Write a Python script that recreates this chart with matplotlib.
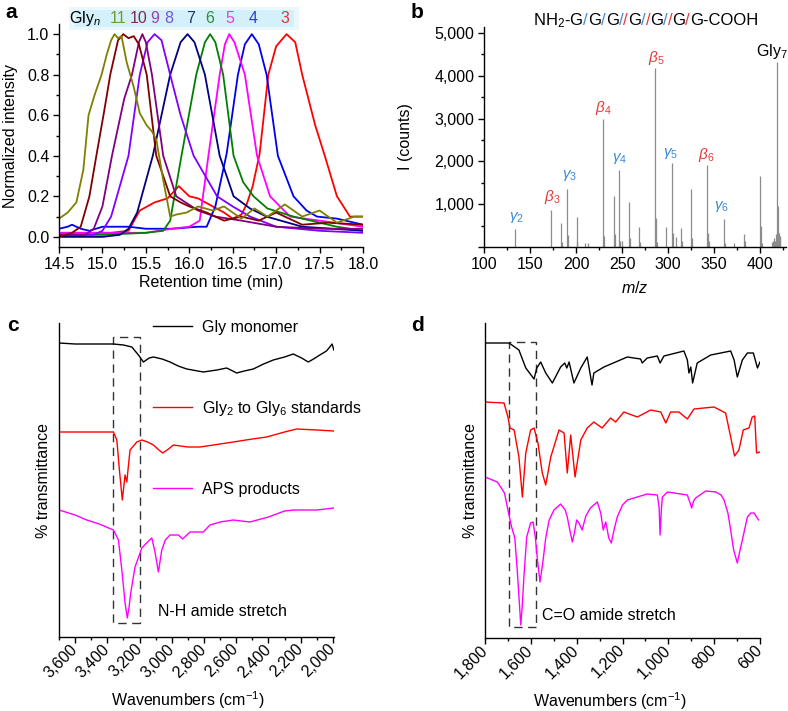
import matplotlib
matplotlib.use("Agg")
import matplotlib.pyplot as plt
from matplotlib.patches import Rectangle
from matplotlib.ticker import MultipleLocator, FuncFormatter

plt.rcParams["font.family"] = ["Liberation Sans", "DejaVu Sans"]
plt.rcParams["mathtext.fontset"] = "custom"
plt.rcParams["mathtext.rm"] = "Liberation Sans"
plt.rcParams["mathtext.it"] = "Liberation Sans:italic"
plt.rcParams["mathtext.bf"] = "Liberation Sans:bold"
plt.rcParams["font.size"] = 11.5
plt.rcParams["axes.linewidth"] = 1.0
FS = 11.5

# ---------------- panel a: HPLC traces of Gly_n ----------------
t_gly3 = [14.5, 14.8, 15.1, 15.3, 15.43, 15.6, 15.75, 15.88, 16.0, 16.1, 16.27, 16.4, 16.5, 16.6, 16.66,
          16.73, 16.81, 16.91, 17.0, 17.12, 17.22, 17.3, 17.45, 17.56, 17.7, 17.85, 18.0]
i_gly3 = [0.02, 0.02, 0.02, 0.03, 0.13, 0.17, 0.19, 0.25, 0.20, 0.19, 0.15, 0.12, 0.09, 0.11, 0.16,
          0.25, 0.41, 0.80, 0.94, 1.00, 0.96, 0.80, 0.55, 0.40, 0.20, 0.10, 0.10]
t_gly4 = [14.5, 14.6, 14.65, 14.75, 14.85, 15.0, 15.3, 15.5, 15.8, 16.1, 16.2, 16.3, 16.43, 16.56, 16.64,
          16.72, 16.8, 16.89, 17.02, 17.2, 17.35, 17.47, 17.7, 18.0]
i_gly4 = [0.04, 0.05, 0.06, 0.04, 0.03, 0.05, 0.05, 0.04, 0.04, 0.05, 0.05, 0.15, 0.41, 0.80, 0.95,
          1.00, 0.95, 0.80, 0.40, 0.20, 0.13, 0.10, 0.09, 0.06]
t_gly5 = [14.5, 15.0, 15.5, 15.8, 16.0, 16.12, 16.22, 16.35, 16.41, 16.46, 16.52, 16.64, 16.78, 16.93,
          17.16, 17.5, 18.0]
i_gly5 = [0.02, 0.02, 0.02, 0.04, 0.05, 0.08, 0.40, 0.80, 0.95, 1.00, 0.96, 0.80, 0.40, 0.20,
          0.10, 0.08, 0.05]
t_gly6 = [14.5, 15.0, 15.5, 15.7, 15.78, 15.91, 16.08, 16.18, 16.24, 16.3, 16.39, 16.51, 16.62, 16.74,
          16.9, 17.2, 17.7, 18.0]
i_gly6 = [0.01, 0.01, 0.02, 0.03, 0.08, 0.40, 0.80, 0.96, 1.00, 0.96, 0.80, 0.40, 0.27, 0.20,
          0.14, 0.10, 0.05, 0.03]
t_gly7 = [14.5, 15.0, 15.2, 15.3, 15.4, 15.58, 15.78, 15.9, 15.98, 16.06, 16.18, 16.35, 16.51, 16.7,
          16.89, 17.3, 18.0]
i_gly7 = [0.00, 0.00, 0.01, 0.04, 0.12, 0.40, 0.80, 0.96, 1.00, 0.96, 0.80, 0.40, 0.20, 0.14,
          0.10, 0.05, 0.03]
t_gly8 = [14.5, 14.9, 15.0, 15.1, 15.3, 15.43, 15.52, 15.6, 15.68, 15.78, 15.9, 16.05, 16.32, 16.5,
          16.7, 17.0, 17.5, 18.0]
i_gly8 = [0.01, 0.01, 0.03, 0.10, 0.40, 0.80, 0.96, 1.00, 0.97, 0.80, 0.60, 0.40, 0.20, 0.15,
          0.10, 0.05, 0.03, 0.02]
t_gly9 = [14.5, 14.8, 14.9, 15.0, 15.11, 15.25, 15.34, 15.42, 15.46, 15.5, 15.57, 15.7, 15.85, 16.1,
          16.3, 16.6, 17.0, 17.5, 18.0]
i_gly9 = [0.01, 0.01, 0.04, 0.15, 0.40, 0.68, 0.80, 0.96, 1.00, 0.96, 0.80, 0.40, 0.20, 0.13,
          0.10, 0.08, 0.05, 0.04, 0.04]
t_gly10 = [14.5, 14.65, 14.75, 14.85, 14.93, 15.02, 15.09, 15.18, 15.24, 15.3, 15.36, 15.42, 15.51,
           15.62, 15.78, 15.9, 16.0, 16.2, 16.4, 16.6, 16.8, 17.0, 17.3, 17.6, 18.0]
i_gly10 = [0.00, 0.02, 0.05, 0.20, 0.40, 0.62, 0.80, 0.97, 1.00, 0.98, 0.99, 0.95, 0.80,
           0.40, 0.20, 0.17, 0.15, 0.12, 0.08, 0.10, 0.08, 0.12, 0.06, 0.07, 0.06]
t_gly11 = [14.5, 14.6, 14.7, 14.78, 14.84, 14.91, 14.99, 15.05, 15.1, 15.14, 15.18, 15.22, 15.28, 15.36,
           15.43, 15.51, 15.57, 15.62, 15.7, 15.78, 15.85, 15.97, 16.1, 16.27, 16.4, 16.6, 16.75,
           16.9, 17.1, 17.3, 17.5, 17.7, 17.9, 18.0]
i_gly11 = [0.09, 0.12, 0.17, 0.33, 0.60, 0.70, 0.80, 0.90, 0.97, 1.00, 0.98, 0.99, 0.86, 0.74,
           0.61, 0.55, 0.52, 0.48, 0.28, 0.10, 0.11, 0.12, 0.15, 0.13, 0.15, 0.09, 0.14,
           0.10, 0.16, 0.10, 0.13, 0.07, 0.10, 0.10]

gly_names = ["11", "10", "9", "8", "7", "6", "5", "4", "3"]
gly_label_x = [15.18, 15.42, 15.6, 15.76, 16.01, 16.24, 16.47, 16.74, 17.1]
gly_label_colors = ["#6f9a35", "#7b2d4b", "#9b3fb0", "#7a52e0", "#1f3575", "#2f8f3a", "#e044e0", "#2d3fd0", "#e0353a"]

# ---------------- panel b: MS/MS of Gly7 ----------------
mz = [133.4, 172.5, 184, 185, 190.2, 191, 200.7, 201.5, 210, 213, 229.3, 230, 241.3, 242, 247, 248, 250,
      257.9, 258.5, 268, 269, 286.2, 287, 288, 297.8, 304.3, 305, 308.3, 314.5, 315.5, 324.6, 325.5,
      342.7, 343.6, 344.5, 360.9, 362, 371, 381.9, 383, 400, 400.7, 401.5, 413, 414, 415, 416, 417,
      418.2, 419, 419.8, 420.5, 421.3, 422]
counts = [420, 860, 553, 120, 1348, 290, 709, 150, 100, 100, 3000, 250, 1190, 300, 1800, 150, 150,
          1044, 200, 460, 120, 4175, 670, 120, 475, 1970, 330, 240, 436, 150, 1348, 200,
          1908, 320, 150, 662, 100, 100, 304, 150, 1660, 490, 100, 120, 150, 200, 150, 300,
          4330, 958, 350, 320, 250, 200]
ion_labels = [r"$\gamma_2$", r"$\beta_3$", r"$\gamma_3$", r"$\beta_4$", r"$\gamma_4$", r"$\beta_5$",
              r"$\gamma_5$", r"$\beta_6$", r"$\gamma_6$", "Gly$_7$"]
ion_mz = [135.5, 174.6, 192.4, 229.7, 247, 286.6, 302.9, 341, 357.9, 412.5]
ion_y = [700, 1170, 1660, 3240, 2060, 4410, 2190, 2150, 940, 4560]
ion_colors = ["#3a8ad6", "#e83a3a", "#3a8ad6", "#e83a3a", "#3a8ad6", "#e83a3a",
              "#3a8ad6", "#e83a3a", "#3a8ad6", "black"]

# ---------------- panel c: IR, N-H region ----------------
wn_c_mono = [3700, 3600, 3500, 3362, 3300, 3248, 3207, 3176, 3140, 3114, 3060, 3011, 2960, 2907, 2804,
             2720, 2659, 2597, 2550, 2494, 2430, 2370, 2300, 2246, 2194, 2153, 2120, 2081, 2040, 2019,
             2005, 1994]
tr_c_mono = [294, 293, 293, 293, 292, 290, 282, 275, 279, 280, 278, 275, 271, 268, 265,
             267, 269, 264, 266, 268, 273, 277, 280, 283, 279, 275, 278, 282, 286, 290,
             293, 287]
wn_c_std = [3700, 3500, 3362, 3341, 3325, 3307, 3298, 3290, 3279, 3270, 3259, 3217, 3186, 3150, 3114,
            3080, 3056, 3020, 2990, 2900, 2825, 2700, 2618, 2500, 2411, 2300, 2225, 2100, 1994]
tr_c_std = [205, 205, 205, 197, 167, 137, 150, 162, 155, 170, 187, 195, 197, 195, 192,
            187, 184, 188, 192, 190, 190, 193, 195, 198, 200, 205, 208, 207, 206]
wn_c_aps = [3700, 3600, 3528, 3450, 3362, 3331, 3310, 3290, 3276, 3265, 3255, 3228, 3186, 3150, 3124,
            3104, 3083, 3062, 3040, 3011, 2959, 2932, 2887, 2804, 2763, 2700, 2618, 2515, 2400, 2300,
            2246, 2100, 1994]
tr_c_aps = [127, 122, 117, 113, 107, 97, 67, 34, 19, 30, 44, 70, 89, 95, 99,
            85, 65, 87, 97, 102, 102, 98, 105, 105, 112, 115, 117, 115, 120, 126,
            127, 127, 129]

# ---------------- panel d: IR, C=O region ----------------
wn_d_mono = [1800, 1695, 1652, 1622, 1586, 1574, 1557, 1535, 1506, 1470, 1452, 1443, 1433, 1412, 1382,
             1354, 1333, 1325, 1281, 1179, 1121, 1114, 1092, 1048, 1036, 1019, 932, 917, 910, 902,
             894, 874, 815, 728, 713, 699, 677, 655, 629, 611, 600]
tr_d_mono = [295, 295, 288, 270, 259, 270, 276, 265, 255, 271, 275, 270, 276, 255, 270,
             281, 253, 265, 271, 281, 279, 275, 280, 282, 275, 282, 287, 278, 265, 271,
             255, 275, 283, 287, 278, 261, 278, 285, 285, 270, 276]
wn_d_std = [1800, 1717, 1700, 1691, 1673, 1652, 1637, 1622, 1601, 1586, 1569, 1550, 1535, 1513, 1477,
            1455, 1441, 1426, 1407, 1382, 1354, 1325, 1289, 1252, 1230, 1194, 1135, 1077, 1033, 1011,
            990, 954, 917, 888, 801, 750, 728, 711, 692, 673, 648, 634, 623, 615, 600]
tr_d_std = [236, 235, 221, 210, 208, 181, 141, 185, 208, 210, 195, 165, 153, 181, 208,
            205, 165, 203, 161, 198, 210, 216, 210, 220, 216, 226, 221, 228, 226, 215,
            226, 226, 219, 229, 231, 225, 201, 182, 188, 208, 210, 221, 222, 185, 186]
wn_d_aps = [1800, 1746, 1715, 1700, 1685, 1670, 1660, 1650, 1644, 1638, 1630, 1618, 1601, 1590, 1580,
            1571, 1560, 1548, 1535, 1520, 1499, 1470, 1450, 1441, 1430, 1419, 1410, 1400, 1390, 1376,
            1360, 1340, 1310, 1295, 1284, 1273, 1260, 1249, 1235, 1223, 1200, 1179, 1092, 1048, 1040,
            1036, 1030, 1026, 1004, 917, 905, 898, 890, 881, 837, 793, 770, 757, 740, 728,
            715, 699, 690, 677, 655, 640, 626, 615, 606]
tr_d_aps = [161, 156, 145, 128, 112, 100, 70, 35, 13, 30, 62, 101, 115, 116, 100,
            78, 56, 75, 100, 118, 128, 134, 128, 121, 108, 96, 105, 118, 115, 108,
            122, 130, 136, 125, 108, 116, 100, 95, 110, 121, 133, 138, 144, 143, 130,
            103, 130, 141, 146, 143, 135, 130, 137, 140, 147, 146, 143, 138, 125, 108,
            88, 75, 85, 98, 121, 125, 125, 121, 118]

W, H = 788, 711
fig = plt.figure(figsize=(W / 100, H / 100), dpi=100)


def px_axes(x0, y0, x1, y1):
    return fig.add_axes([x0 / W, 1 - y1 / H, (x1 - x0) / W, (y1 - y0) / H])


def open_axes(ax, left_ticks=True):
    ax.spines["top"].set_visible(False)
    ax.spines["right"].set_visible(False)
    ax.tick_params(direction="out", length=4, width=1, labelsize=FS, pad=3)
    ax.tick_params(which="minor", direction="out", length=2.5, width=1)
    if not left_ticks:
        ax.set_yticks([])


comma = FuncFormatter(lambda v, p: f"{v:,.0f}")

# ---- a ----
ax = px_axes(59, 24, 363, 247)
open_axes(ax)
curves = [(t_gly3, i_gly3, "#ff0000"), (t_gly4, i_gly4, "#0000ee"), (t_gly5, i_gly5, "#ff00ff"),
          (t_gly6, i_gly6, "#008000"), (t_gly7, i_gly7, "#000080"), (t_gly8, i_gly8, "#8000ff"),
          (t_gly9, i_gly9, "#800080"), (t_gly10, i_gly10, "#800000"), (t_gly11, i_gly11, "#808000")]
for tt, ii, col in curves:
    ax.plot(tt, ii, color=col, lw=1.3)
ax.set_xlim(14.5, 18.0)
ax.set_ylim(-0.05, 1.05)
ax.xaxis.set_major_locator(MultipleLocator(0.5))
ax.xaxis.set_minor_locator(MultipleLocator(0.25))
ax.yaxis.set_major_locator(MultipleLocator(0.2))
ax.yaxis.set_minor_locator(MultipleLocator(0.1))
ax.set_xlabel("Retention time (min)", fontsize=FS)
ax.set_ylabel("Normalized intensity", fontsize=FS)
ax.xaxis.set_label_coords(0.5, -0.125)
ax.yaxis.set_label_coords(-0.135, 0.5)
ax.add_patch(Rectangle((14.62, 1.02), 2.64, 0.115, facecolor="#eaf7fd", edgecolor="none",
                       clip_on=False, zorder=0))
ax.add_patch(Rectangle((14.68, 1.035), 2.52, 0.085, facecolor="#d3f0fb", edgecolor="none",
                       clip_on=False, zorder=0))
ax.text(14.80, 1.077, "Gly$_n$", ha="center", va="center", fontsize=FS, clip_on=False)
for name, x, col in zip(gly_names, gly_label_x, gly_label_colors):
    ax.text(x, 1.077, name, color=col, ha="center", va="center", fontsize=FS, clip_on=False)

# ---- b ----
ax = px_axes(484, 27, 786, 247)
open_axes(ax)
ax.vlines(mz, 0, counts, color="#8c8c8c", lw=0.9)
ax.set_xlim(100, 428)
ax.set_ylim(0, 5140)
ax.xaxis.set_major_locator(MultipleLocator(50))
ax.xaxis.set_minor_locator(MultipleLocator(25))
ax.yaxis.set_major_locator(MultipleLocator(1000))
ax.yaxis.set_minor_locator(MultipleLocator(500))
ax.yaxis.set_major_formatter(FuncFormatter(lambda v, p: "" if v == 0 else f"{v:,.0f}"))
ax.set_xlabel("$m/z$", fontsize=FS)
ax.set_ylabel("I (counts)", fontsize=FS)
ax.xaxis.set_label_coords(0.5, -0.15)
ax.yaxis.set_label_coords(-0.235, 0.5)
for lab, x, y, col in zip(ion_labels, ion_mz, ion_y, ion_colors):
    ax.text(x, y, lab, color=col, ha="center", va="center", fontsize=11 if col != "black" else FS)

# ---- c ----
ax = px_axes(59, 323, 334, 637)
open_axes(ax, left_ticks=False)
ax.plot(wn_c_mono, tr_c_mono, color="black", lw=1.0, label="Gly monomer")
ax.plot(wn_c_std, tr_c_std, color="#ff0000", lw=1.0, label="Gly$_2$ to Gly$_6$ standards")
ax.plot(wn_c_aps, tr_c_aps, color="#ff00ff", lw=1.0, label="APS products")
ax.set_xlim(3700, 1993)
ax.set_ylim(0, 314)
ax.xaxis.set_major_locator(MultipleLocator(200))
ax.xaxis.set_minor_locator(MultipleLocator(100))
ax.xaxis.set_major_formatter(comma)
ax.add_patch(Rectangle((3200, 14), 162, 286, fill=False, ls=(0, (6, 4)), lw=1.0, edgecolor="#333333"))
ax.text(3087, 25, "N-H amide stretch", ha="left", va="center", fontsize=FS)
ax.legend(loc="upper left", bbox_to_anchor=(0.34, 1.01), frameon=False, handlelength=2.5,
          handletextpad=0.6, labelspacing=4.0, borderpad=0, borderaxespad=0, fontsize=FS)
ax.set_xlabel("Wavenumbers (cm$^{-1}$)", fontsize=FS)
ax.set_ylabel("% transmittance", fontsize=FS)
ax.xaxis.set_label_coords(0.47, -0.165)
ax.yaxis.set_label_coords(-0.03, 0.5)
plt.setp(ax.get_xticklabels(), rotation=45, ha="right", va="center", rotation_mode="anchor")

# ---- d ----
ax = px_axes(485, 323, 760, 638)
open_axes(ax, left_ticks=False)
ax.plot(wn_d_mono, tr_d_mono, color="black", lw=1.0)
ax.plot(wn_d_std, tr_d_std, color="#ff0000", lw=1.0)
ax.plot(wn_d_aps, tr_d_aps, color="#ff00ff", lw=1.0)
ax.set_xlim(1800, 600)
ax.set_ylim(0, 315)
ax.xaxis.set_major_locator(MultipleLocator(200))
ax.xaxis.set_minor_locator(MultipleLocator(100))
ax.xaxis.set_major_formatter(comma)
ax.add_patch(Rectangle((1578, 11), 117, 285, fill=False, ls=(0, (6, 4)), lw=1.0, edgecolor="#333333"))
ax.text(1550, 22, "C=O amide stretch", ha="left", va="center", fontsize=FS)
ax.set_xlabel("Wavenumbers (cm$^{-1}$)", fontsize=FS)
ax.set_ylabel("% transmittance", fontsize=FS)
ax.xaxis.set_label_coords(0.455, -0.165)
ax.yaxis.set_label_coords(-0.025, 0.5)
plt.setp(ax.get_xticklabels(), rotation=45, ha="right", va="center", rotation_mode="anchor")

# panel letters
for letter, x, y in [("a", 5, 13), ("b", 411, 13), ("c", 7, 325), ("d", 411, 325)]:
    fig.text(x / W, 1 - y / H, letter, weight="bold", fontsize=15, ha="left", va="center")

# coloured peptide title for panel b
title_parts = [("NH$_2$-G", "black"), ("/", "#3a8ad6"), ("G", "black"), ("/", "#3a8ad6"), ("G", "black"),
               ("/", "#3a8ad6"), ("/", "#e83a3a"), ("G", "black"), ("/", "#3a8ad6"), ("/", "#e83a3a"),
               ("G", "black"), ("/", "#3a8ad6"), ("/", "#e83a3a"), ("G", "black"), ("/", "#e83a3a"),
               ("G-COOH", "black")]
renderer = fig.canvas.get_renderer()
x = 533 / W
for s, col in title_parts:
    t = fig.text(x, 1 - 25 / H, s, color=col, fontsize=12, ha="left", va="baseline")
    x = t.get_window_extent(renderer).x1 / fig.bbox.width

fig.savefig("out.png", dpi=100)
